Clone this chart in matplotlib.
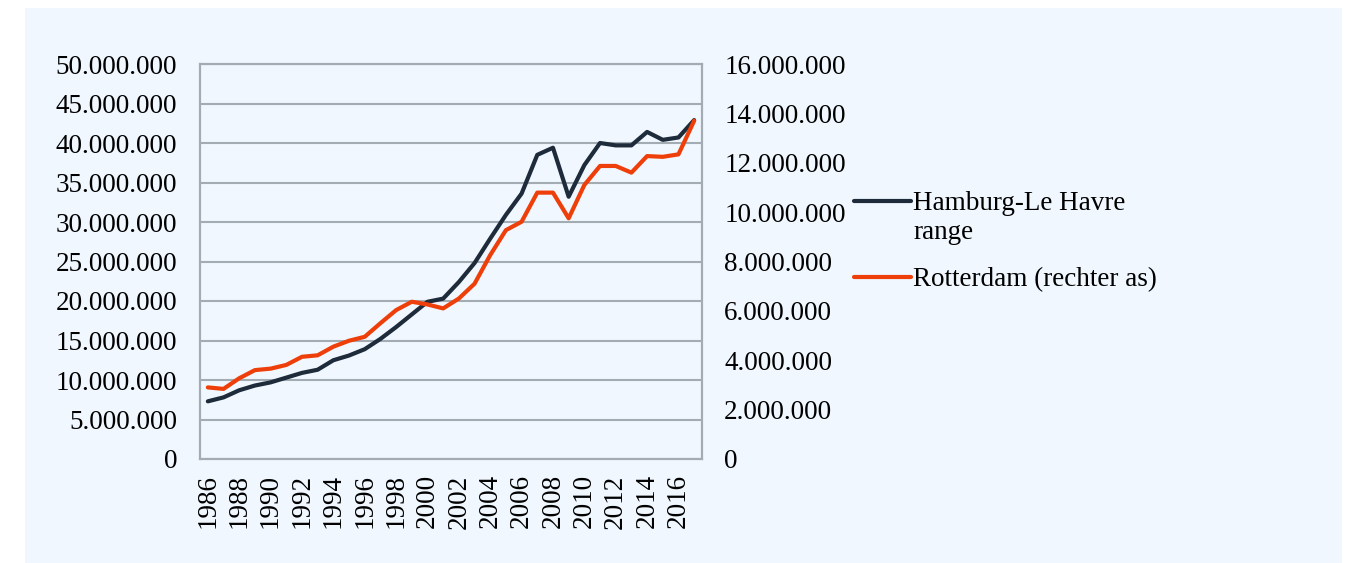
import numpy as np
import matplotlib.pyplot as plt
from matplotlib.lines import Line2D
from matplotlib.ticker import FuncFormatter, MultipleLocator

plt.rcParams['font.family'] = ['Liberation Serif', 'DejaVu Serif']

years = list(range(1986, 2018))

# Hamburg-Le Havre range (left axis, TEU)
hamburg = [7.3e6, 7.8e6, 8.7e6, 9.3e6, 9.7e6, 10.3e6, 10.9e6, 11.3e6,
           12.5e6, 13.1e6, 13.9e6, 15.2e6, 16.7e6, 18.3e6, 19.9e6, 20.3e6,
           22.4e6, 24.8e6, 27.9e6, 30.9e6, 33.6e6, 38.5e6, 39.4e6, 33.2e6,
           37.2e6, 40.0e6, 39.7e6, 39.7e6, 41.4e6, 40.4e6, 40.7e6, 42.9e6]

# Rotterdam (right axis, TEU)
rotterdam = [2.90e6, 2.84e6, 3.27e6, 3.60e6, 3.66e6, 3.81e6, 4.14e6, 4.20e6,
             4.55e6, 4.79e6, 4.95e6, 5.50e6, 6.03e6, 6.37e6, 6.26e6, 6.10e6,
             6.50e6, 7.10e6, 8.26e6, 9.27e6, 9.61e6, 10.79e6, 10.79e6, 9.75e6,
             11.10e6, 11.87e6, 11.87e6, 11.60e6, 12.27e6, 12.24e6, 12.34e6, 13.70e6]

label_hamburg = ['Hamburg-Le Havre', 'range']
label_rotterdam = 'Rotterdam (rechter as)'

bg = '#F0F7FE'
grid_col = '#A3ABB3'
navy = '#1E2B3A'
orange = '#EE3F0A'
fs = 19.5


def dots(v, _):
    return f'{int(round(v)):,}'.replace(',', '.')


fig = plt.figure(figsize=(13.51, 5.63), dpi=100, facecolor='white')
panel = fig.add_axes([25 / 1351, 0, 1317 / 1351, 555 / 563])
panel.set_facecolor(bg)
panel.set_xticks([])
panel.set_yticks([])
for s in panel.spines.values():
    s.set_visible(False)
panel.set_zorder(-10)

ax = fig.add_axes([200 / 1351, 104 / 563, 502 / 1351, 395 / 563])
ax.set_facecolor(bg)
ax2 = ax.twinx()

x = np.arange(len(years))
l1, = ax.plot(x, hamburg, color=navy, lw=3.0, solid_capstyle='round', zorder=3)
l2, = ax2.plot(x, rotterdam, color=orange, lw=3.0, solid_capstyle='round', zorder=3)

ax.set_xlim(-0.5, len(years) - 0.5)
ax.set_ylim(0, 50e6)
ax2.set_ylim(0, 16e6)
ax.yaxis.set_major_locator(MultipleLocator(5e6))
ax2.yaxis.set_major_locator(MultipleLocator(2e6))
ax.yaxis.set_major_formatter(FuncFormatter(dots))
ax2.yaxis.set_major_formatter(FuncFormatter(dots))

ax.set_xticks(x[::2])
ax.set_xticklabels([str(y) for y in years[::2]], rotation=90)

ax.grid(axis='y', color=grid_col, lw=1.5)
ax.set_axisbelow(True)
for a in (ax, ax2):
    for s in a.spines.values():
        s.set_color(grid_col)
        s.set_linewidth(1.5)
ax.tick_params(axis='y', length=0, pad=16.5, labelsize=fs)
ax.tick_params(axis='x', length=0, pad=11, labelsize=fs)
ax2.tick_params(axis='y', length=0, pad=16, labelsize=fs)

# legend: wrapped label, handle next to the first line only
blank = Line2D([], [], color='none')
leg1 = fig.legend([l1, blank], label_hamburg, loc='center left',
                  bbox_to_anchor=(843 / 1351, 1 - 218 / 563), frameon=False,
                  fontsize=fs, handlelength=2.1, handletextpad=0.1,
                  labelspacing=0.14, borderaxespad=0)
leg2 = fig.legend([l2], [label_rotterdam], loc='center left',
                  bbox_to_anchor=(843 / 1351, 1 - 280 / 563), frameon=False,
                  fontsize=fs, handlelength=2.1, handletextpad=0.1,
                  borderaxespad=0)

fig.savefig('out.png', dpi=100, facecolor='white')
